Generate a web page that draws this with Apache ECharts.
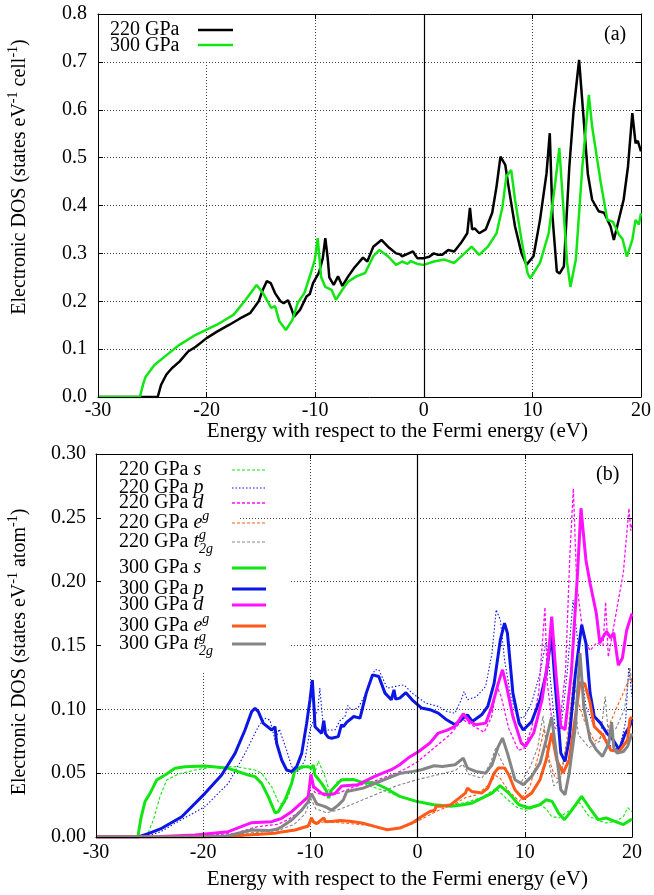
<!DOCTYPE html>
<html>
<head>
<meta charset="utf-8">
<title>Electronic DOS</title>
<script src="https://cdn.jsdelivr.net/npm/echarts@6/dist/echarts.min.js"></script>
<style>
  html, body { margin: 0; padding: 0; background: #fff; }
  #chart { width: 654px; height: 895px; }
</style>
</head>
<body>
<div id="chart"></div>
<script>
// ---- panel (a): total DOS, [energy eV, states/eV/cell] ----
const dos220 = [[-30,0],[-24.5,0],[-24.2,0.025],[-23.7,0.047],[-23.2,0.06],[-22.5,0.074],[-21.7,0.095],[-21,0.105],[-20,0.123],[-19,0.137],[-17.9,0.151],[-17,0.163],[-16,0.175],[-15.2,0.2],[-14.8,0.225],[-14.45,0.242],[-14.1,0.238],[-13.7,0.217],[-13.2,0.2],[-12.9,0.196],[-12.5,0.202],[-12.2,0.185],[-11.95,0.168],[-11.4,0.182],[-10.8,0.21],[-10.5,0.215],[-10.2,0.238],[-9.65,0.26],[-9.3,0.29],[-9.07,0.332],[-8.85,0.29],[-8.7,0.25],[-8.3,0.234],[-7.9,0.252],[-7.5,0.232],[-6.96,0.252],[-6.4,0.27],[-5.6,0.291],[-5.2,0.283],[-4.65,0.314],[-3.9,0.328],[-3.3,0.314],[-2.55,0.3],[-2.2,0.298],[-2,0.294],[-1.4,0.3],[-1.0,0.304],[-0.6,0.29],[0,0.29],[0.5,0.293],[0.92,0.3],[1.3,0.297],[1.7,0.297],[2.25,0.307],[2.8,0.304],[3.4,0.321],[4.0,0.342],[4.25,0.395],[4.45,0.35],[4.7,0.352],[5.1,0.342],[5.7,0.35],[6.3,0.385],[6.7,0.44],[7.06,0.502],[7.5,0.485],[7.8,0.44],[8.4,0.356],[9.0,0.3],[9.45,0.276],[10.1,0.294],[10.7,0.37],[11.3,0.467],[11.6,0.551],[11.85,0.377],[12.25,0.262],[12.5,0.258],[12.9,0.273],[13.4,0.481],[13.8,0.6],[14.3,0.704],[14.7,0.586],[15.1,0.467],[15.5,0.412],[16.1,0.388],[16.6,0.385],[17.2,0.356],[17.5,0.328],[17.8,0.356],[18.4,0.412],[18.8,0.481],[19.2,0.593],[19.5,0.53],[19.7,0.535],[20,0.513]];
const dos300 = [[-30,0],[-26.15,0],[-25.8,0.03],[-25.6,0.043],[-24.8,0.067],[-23.66,0.088],[-22.5,0.109],[-21,0.13],[-19.05,0.151],[-17.5,0.172],[-16.4,0.203],[-15.4,0.234],[-14.8,0.217],[-14.05,0.186],[-13.7,0.19],[-13.3,0.158],[-12.7,0.14],[-12.1,0.161],[-11.6,0.197],[-11,0.217],[-10.4,0.259],[-10.03,0.287],[-9.77,0.332],[-9.45,0.25],[-9.07,0.23],[-8.5,0.224],[-8.1,0.203],[-7.5,0.224],[-6.96,0.241],[-6.2,0.252],[-5.4,0.259],[-4.65,0.294],[-4.1,0.307],[-3.3,0.294],[-2.55,0.276],[-2,0.283],[-1.5,0.278],[-1.2,0.284],[-0.6,0.278],[0,0.276],[0.92,0.283],[1.9,0.287],[2.8,0.28],[3.6,0.297],[4.4,0.314],[5.1,0.297],[5.9,0.314],[6.7,0.342],[7.25,0.398],[7.6,0.461],[8.05,0.474],[8.4,0.412],[9.0,0.328],[9.55,0.259],[9.8,0.248],[10.7,0.28],[11.5,0.342],[12.1,0.447],[12.48,0.52],[12.8,0.412],[13.2,0.28],[13.5,0.23],[14.0,0.287],[14.6,0.481],[15.2,0.631],[15.5,0.565],[16.3,0.447],[16.9,0.37],[17.4,0.366],[18.0,0.338],[18.3,0.33],[18.7,0.293],[19.2,0.328],[19.5,0.37],[19.8,0.36],[20,0.384]];

// ---- panel (b): projected DOS, [energy eV, states/eV/atom] ----
const s220 = [[-30,0],[-25.3,0],[-24.65,0.0133],[-24.03,0.0316],[-23.41,0.0446],[-22.32,0.0493],[-20.76,0.0525],[-19.21,0.0546],[-17.03,0.0551],[-15.17,0.0525],[-14.55,0.05],[-13.61,0.0394],[-13.0,0.0277],[-12.53,0.025],[-12.06,0.0316],[-11.44,0.0512],[-10.81,0.0538],[-10.2,0.0551],[-9.6,0.05],[-9.26,0.0595],[-8.64,0.0473],[-8.2,0.035],[-7.5,0.043],[-6.4,0.046],[-5.5,0.044],[-4.5,0.04],[-3,0.036],[-1.5,0.031],[0,0.027],[1.5,0.025],[3,0.025],[4.5,0.027],[6,0.031],[7.3,0.038],[8.3,0.03],[9.3,0.023],[10.2,0.021],[11.5,0.025],[12.0,0.022],[12.5,0.016],[13.2,0.015],[14.2,0.021],[15.1,0.027],[16.0,0.016],[17.5,0.011],[18.5,0.012],[19.2,0.016],[19.6,0.023],[20,0.02]];
const p220 = [[-30,0],[-25.5,0],[-24,0.004],[-22.63,0.0107],[-19.83,0.0238],[-17.66,0.042],[-16.1,0.0655],[-14.86,0.0864],[-14.24,0.093],[-13.77,0.0916],[-13.3,0.076],[-12.9,0.0845],[-12.22,0.068],[-11.75,0.0551],[-11.13,0.0512],[-10.5,0.0603],[-10.04,0.0838],[-9.6,0.0943],[-9.3,0.0995],[-9.12,0.1166],[-8.8,0.0864],[-8.33,0.0838],[-7.71,0.0838],[-7.24,0.0912],[-6.77,0.0943],[-6.5,0.103],[-6.2,0.0997],[-5.56,0.101],[-4.79,0.1127],[-4.0,0.131],[-3.62,0.131],[-2.84,0.1166],[-2.06,0.118],[-1.28,0.1192],[-0.51,0.1127],[0.76,0.1049],[1.93,0.1023],[2.71,0.0984],[3.49,0.097],[4.07,0.1075],[4.34,0.114],[4.65,0.1075],[5.5,0.11],[6.35,0.118],[6.94,0.144],[7.33,0.178],[7.72,0.17],[8.11,0.1388],[8.69,0.11],[9.28,0.0944],[9.86,0.0931],[10.64,0.1049],[11.42,0.1284],[12.0,0.1545],[12.27,0.1336],[12.78,0.0892],[13.36,0.084],[13.95,0.1284],[14.5,0.1856],[15.1,0.1414],[15.7,0.1023],[16.48,0.0866],[17.25,0.0814],[18.03,0.071],[18.81,0.0684],[19.4,0.09],[19.7,0.133],[20,0.11]];
const d220 = [[-30,0],[-24,0],[-20,0.001],[-17,0.003],[-15,0.008],[-13,0.01],[-12,0.014],[-11,0.02],[-10.3,0.027],[-9.95,0.043],[-9.6,0.035],[-8.5,0.032],[-7.5,0.034],[-6,0.039],[-4,0.044],[-2,0.05],[-1,0.054],[0,0.059],[1,0.066],[2,0.073],[3,0.08],[4.2,0.092],[5.2,0.087],[6.2,0.082],[6.9,0.094],[7.4,0.118],[7.8,0.11],[8.5,0.085],[9.4,0.068],[9.9,0.069],[10.6,0.084],[11.3,0.113],[11.88,0.18],[12.1,0.12],[12.6,0.087],[13.2,0.083],[13.8,0.13],[14.2,0.22],[14.53,0.273],[14.84,0.199],[15.46,0.157],[16.08,0.146],[16.7,0.152],[17.3,0.15],[17.54,0.184],[17.79,0.141],[18.57,0.178],[19.19,0.207],[19.72,0.2575],[19.88,0.24],[20,0.245]];
const eg220 = [[-30,0],[-20,0],[-15,0.0015],[-13,0.003],[-11.5,0.005],[-10.2,0.008],[-9.9,0.012],[-9.5,0.01],[-8.7,0.012],[-7,0.011],[-5,0.0095],[-3,0.006],[-1.5,0.007],[-0.3,0.011],[0.6,0.015],[2,0.021],[3.5,0.026],[4.5,0.031],[5.5,0.033],[6.5,0.04],[7.3,0.048],[7.7,0.046],[8.5,0.036],[9.5,0.028],[10.5,0.04],[11.3,0.065],[11.8,0.085],[12.3,0.06],[12.8,0.047],[13.3,0.045],[14.0,0.08],[14.53,0.123],[15.0,0.105],[15.6,0.09],[16.5,0.075],[17.5,0.08],[18.5,0.1],[19.3,0.115],[19.8,0.126],[20,0.12]];
const t2g220 = [[-30,0],[-20,0],[-16,0.003],[-13,0.005],[-11.5,0.01],[-10.5,0.018],[-9.95,0.03],[-9.5,0.022],[-8.5,0.019],[-7.5,0.021],[-6,0.026],[-4,0.033],[-2,0.04],[0,0.045],[2,0.049],[3.5,0.052],[4.2,0.057],[4.8,0.049],[6,0.046],[6.8,0.058],[7.3,0.07],[7.8,0.06],[8.6,0.048],[9.6,0.042],[10.5,0.055],[11.2,0.07],[11.7,0.095],[12.1,0.065],[12.7,0.04],[13.3,0.045],[14.0,0.075],[14.5,0.118],[15.0,0.08],[16.0,0.07],[17.0,0.075],[17.5,0.11],[17.8,0.08],[18.5,0.085],[19.3,0.1],[19.8,0.133],[20,0.12]];

const s300 = [[-30,0],[-26.1,0],[-25.8,0.015],[-25.43,0.0277],[-24.96,0.0342],[-24.34,0.0446],[-23.41,0.0493],[-22.63,0.0538],[-21.7,0.0551],[-19.83,0.0556],[-17.66,0.0538],[-15.79,0.0486],[-15.17,0.0473],[-14.55,0.042],[-13.93,0.0316],[-13.3,0.019],[-13.0,0.0197],[-12.37,0.029],[-11.75,0.042],[-11.44,0.0525],[-10.81,0.0551],[-10.2,0.0551],[-9.9,0.054],[-9.73,0.0564],[-9.57,0.0486],[-8.95,0.042],[-8.5,0.036],[-8.3,0.0305],[-8.02,0.0368],[-7.1,0.0449],[-5.95,0.045],[-5.18,0.0428],[-4.0,0.0423],[-2.84,0.0376],[-1.67,0.0318],[-0.1,0.0279],[1.5,0.0253],[3.1,0.024],[4.26,0.0253],[5.1,0.0266],[6.0,0.0305],[6.95,0.0344],[7.7,0.0402],[8.5,0.0344],[9.45,0.0253],[10.4,0.0227],[11.4,0.0253],[12.0,0.0292],[12.55,0.0279],[13.15,0.0188],[13.7,0.0136],[14.3,0.0201],[15.3,0.0318],[16.05,0.0227],[16.85,0.0136],[17.6,0.0149],[18.4,0.0123],[19.2,0.0097],[20,0.0141]];
const p300 = [[-30,0],[-26.05,0],[-25,0.003],[-23.87,0.0068],[-22.0,0.0159],[-19.83,0.0342],[-18.28,0.0486],[-17.03,0.0655],[-16.1,0.0838],[-15.48,0.0982],[-15.17,0.1008],[-14.86,0.0982],[-14.39,0.089],[-13.61,0.0838],[-13.3,0.0864],[-13.15,0.0734],[-12.68,0.0603],[-12.22,0.0525],[-11.75,0.0512],[-11.28,0.0551],[-10.81,0.0655],[-10.35,0.089],[-10.04,0.1073],[-9.82,0.123],[-9.65,0.1],[-9.57,0.0864],[-8.95,0.0812],[-8.75,0.0912],[-8.6,0.081],[-8.33,0.078],[-8.02,0.0773],[-7.4,0.0786],[-7.1,0.088],[-6.93,0.0864],[-6.6,0.09],[-5.95,0.0944],[-5.37,0.0931],[-4.79,0.1127],[-4.2,0.127],[-3.62,0.1257],[-3.04,0.1127],[-2.45,0.1075],[-2.2,0.1153],[-2.05,0.108],[-1.67,0.1088],[-1.09,0.113],[-0.51,0.1075],[0.37,0.101],[1.15,0.0997],[1.93,0.097],[2.71,0.0918],[3.49,0.0879],[4.26,0.0931],[4.65,0.0957],[5.1,0.0905],[5.97,0.0957],[6.55,0.1023],[7.14,0.1205],[7.72,0.1545],[8.11,0.1675],[8.38,0.1597],[8.89,0.1127],[9.47,0.0892],[9.86,0.0838],[10.64,0.0905],[11.42,0.1075],[12.0,0.1284],[12.5,0.158],[12.8,0.1231],[13.36,0.0657],[13.75,0.0592],[14.14,0.0762],[14.72,0.1284],[15.31,0.1662],[15.7,0.1518],[16.09,0.1127],[16.48,0.0944],[17.06,0.0892],[17.64,0.0814],[18.23,0.0762],[18.81,0.0684],[19.39,0.0814],[19.78,0.0866],[20,0.0918]];
const d300 = [[-30,0],[-25,0],[-20.76,0.0016],[-17.66,0.0042],[-15.48,0.0112],[-13.61,0.012],[-13.15,0.0133],[-12.68,0.0146],[-11.75,0.0198],[-10.81,0.0269],[-10.2,0.0316],[-9.95,0.049],[-9.7,0.0394],[-8.95,0.0342],[-8.33,0.033],[-7.71,0.034],[-7.08,0.04],[-5.56,0.041],[-4.0,0.0475],[-2.45,0.0527],[-1.67,0.0566],[-0.89,0.0618],[0.1,0.067],[1.15,0.0736],[1.93,0.0814],[2.71,0.0835],[3.49,0.0866],[4.26,0.0965],[4.85,0.0905],[5.43,0.0879],[6.36,0.0892],[6.94,0.1023],[7.53,0.1205],[7.92,0.131],[8.3,0.118],[8.89,0.0944],[9.67,0.0736],[10.06,0.071],[10.83,0.0814],[11.61,0.1075],[12.2,0.1414],[12.51,0.1727],[12.9,0.1284],[13.36,0.0866],[13.75,0.084],[14.34,0.1284],[14.92,0.2066],[15.24,0.2575],[15.7,0.217],[16.09,0.1988],[16.67,0.1753],[17.0,0.152],[17.4,0.158],[17.63,0.161],[18.0,0.156],[18.3,0.16],[18.72,0.1346],[19.1,0.14],[19.5,0.162],[20,0.175]];
const eg300 = [[-30,0],[-20,0],[-17.66,0.0005],[-15.17,0.002],[-13.3,0.003],[-12.68,0.004],[-11.44,0.0055],[-10.2,0.0086],[-9.9,0.015],[-9.73,0.012],[-9.41,0.0105],[-8.75,0.015],[-8.6,0.012],[-7.9,0.0123],[-7.2,0.013],[-6.34,0.0123],[-5.18,0.011],[-4.0,0.0083],[-2.84,0.0057],[-1.67,0.007],[-0.5,0.011],[0.37,0.016],[1.15,0.02],[1.6,0.021],[1.73,0.024],[2.32,0.024],[3.1,0.0253],[3.87,0.0305],[4.46,0.0344],[4.65,0.0383],[5.04,0.0357],[5.97,0.0344],[6.55,0.0383],[7.14,0.05],[7.53,0.054],[8.11,0.054],[8.5,0.0488],[9.08,0.037],[9.86,0.0297],[10.64,0.0344],[11.42,0.0449],[12.0,0.0605],[12.51,0.0814],[12.97,0.0605],[13.56,0.05],[14.14,0.0605],[14.72,0.0944],[15.15,0.121],[15.6,0.12],[16.09,0.105],[16.48,0.0866],[17.25,0.08],[18.03,0.068],[18.81,0.067],[19.59,0.076],[19.8,0.092],[20,0.094]];
const t2g300 = [[-30,0],[-20,0],[-17.66,0.001],[-15.48,0.0055],[-13.93,0.005],[-13.15,0.006],[-12.68,0.008],[-11.75,0.0133],[-10.81,0.021],[-10.2,0.0277],[-9.9,0.034],[-9.73,0.0342],[-9.41,0.026],[-8.64,0.0238],[-8.02,0.021],[-7.4,0.025],[-6.93,0.029],[-6.6,0.0357],[-5.08,0.0383],[-3.9,0.0423],[-2.74,0.0462],[-1.57,0.05],[-0.41,0.0514],[0.37,0.0527],[1.54,0.0558],[2.32,0.0553],[3.49,0.0566],[4.26,0.0618],[4.65,0.054],[5.43,0.0514],[6.36,0.05],[6.94,0.0566],[7.53,0.071],[7.92,0.0775],[8.38,0.0657],[9.08,0.0449],[9.86,0.041],[10.64,0.0475],[11.42,0.0579],[12.0,0.0762],[12.5,0.094],[12.9,0.0684],[13.36,0.037],[13.75,0.0331],[14.14,0.05],[14.72,0.0866],[15.15,0.144],[15.5,0.1023],[16.09,0.0762],[16.67,0.0684],[17.25,0.0631],[17.84,0.0736],[18.1,0.09],[18.3,0.07],[18.62,0.0657],[19.2,0.067],[19.59,0.071],[20,0.081]];

const fermiEnergy = 0;
const energyRange = [-30, 20];

// ---- look ----
const FONT = '"Liberation Serif", "Times New Roman", serif';
const GREEN = '#12e612', BLUE = '#0c16e4', MAGENTA = '#ff10ff', ORANGE = '#ff5a1a', GREY = '#858585';
const X_TITLE = 'Energy with respect to the Fermi energy (eV)';
const txt = {fontFamily: FONT, fontSize: 20, color: '#000'};
const gridDots = {color: '#444', width: 1, type: [1, 2]};

const chart = echarts.init(document.getElementById('chart'));

// canvas text measuring, used to place the stray superscript of t2g
const measureCtx = document.createElement('canvas').getContext('2d');
function textWidth(str, font) {
  measureCtx.font = font;
  return measureCtx.measureText(str).width;
}

function bottomAxis(grid, labelMargin) {
  return {
    type: 'value', gridIndex: grid, position: 'bottom', z: 3,
    min: energyRange[0], max: energyRange[1], interval: 10,
    axisLine: {show: true, onZero: false, lineStyle: {color: '#000', width: 1}},
    axisTick: {show: true, inside: true, length: 5, lineStyle: {color: '#000'}},
    axisLabel: Object.assign({margin: labelMargin}, txt),
    splitLine: {show: false}
  };
}
// mirrored top axis, also carries the dotted grid
function topAxis(grid) {
  return {
    type: 'value', gridIndex: grid, position: 'top', z: 0,
    min: energyRange[0], max: energyRange[1], interval: 10,
    axisLine: {show: true, onZero: false, lineStyle: {color: '#000', width: 1}},
    axisTick: {show: true, inside: true, length: 5, lineStyle: {color: '#000'}},
    axisLabel: {show: false},
    splitLine: {show: true, lineStyle: gridDots}
  };
}
function leftAxis(grid, max, step, digits, margin) {
  return {
    type: 'value', gridIndex: grid, position: 'left', z: 3,
    min: 0, max: max, interval: step,
    axisLine: {show: true, onZero: false, lineStyle: {color: '#000', width: 1}},
    axisTick: {show: true, inside: true, length: 5, lineStyle: {color: '#000'}},
    axisLabel: Object.assign({margin: margin, formatter: v => v.toFixed(digits)}, txt),
    splitLine: {show: false}
  };
}
function rightAxis(grid, max, step) {
  return {
    type: 'value', gridIndex: grid, position: 'right', z: 0,
    min: 0, max: max, interval: step,
    axisLine: {show: true, onZero: false, lineStyle: {color: '#000', width: 1}},
    axisTick: {show: true, inside: true, length: 5, lineStyle: {color: '#000'}},
    axisLabel: {show: false},
    splitLine: {show: true, lineStyle: gridDots}
  };
}

function line(name, data, xi, yi, color, width, dash) {
  return {
    name: name, type: 'line', data: data, xAxisIndex: xi, yAxisIndex: yi,
    symbol: 'none', silent: true, z: 2,
    lineStyle: {color: color, width: width, type: dash || 'solid'}
  };
}
function fermiMark() {
  return {
    silent: true, symbol: ['none', 'none'], label: {show: false},
    lineStyle: {color: '#000', width: 1.2, type: 'solid'},
    data: [{xAxis: fermiEnergy}]
  };
}

// series of panel (b), thin dashed first so the thick lines sit on top
const pdos = [
  {name: '220 GPa s', data: s220, color: GREEN, width: 1.1, dash: [3, 2]},
  {name: '220 GPa p', data: p220, color: BLUE, width: 1.1, dash: [1.5, 2]},
  {name: '220 GPa d', data: d220, color: MAGENTA, width: 1.3, dash: [3, 2]},
  {name: '220 GPa eg', data: eg220, color: ORANGE, width: 1.1, dash: [3, 2]},
  {name: '220 GPa t2g', data: t2g220, color: GREY, width: 1.1, dash: [3, 2]},
  {name: '300 GPa s', data: s300, color: GREEN, width: 3},
  {name: '300 GPa p', data: p300, color: BLUE, width: 3},
  {name: '300 GPa d', data: d300, color: MAGENTA, width: 3},
  {name: '300 GPa eg', data: eg300, color: ORANGE, width: 3},
  {name: '300 GPa t2g', data: t2g300, color: GREY, width: 3}
];

const series = [
  line('220 GPa', dos220, 0, 0, '#000', 2.5),
  line('300 GPa', dos300, 0, 0, GREEN, 2.5)
];
series[0].markLine = fermiMark();
pdos.forEach(p => series.push(line(p.name, p.data, 2, 2, p.color, p.width, p.dash)));
series[2].markLine = fermiMark();

// rich text pieces for labels with italics, super- and subscripts
const rich = {
  n: {fontFamily: FONT, fontSize: 20, lineHeight: 28, verticalAlign: 'middle', color: '#000'},
  t: {fontFamily: FONT, fontSize: 21, lineHeight: 28, verticalAlign: 'middle', color: '#000'},
  i: {fontFamily: FONT, fontSize: 20, fontStyle: 'italic', lineHeight: 28, verticalAlign: 'middle', color: '#000'},
  sup: {fontFamily: FONT, fontSize: 14, fontStyle: 'italic', lineHeight: 14, verticalAlign: 'top', color: '#000'},
  sub: {fontFamily: FONT, fontSize: 14, fontStyle: 'italic', lineHeight: 14, verticalAlign: 'bottom', color: '#000'},
  g: {fontFamily: FONT, fontSize: 14, fontStyle: 'italic', lineHeight: 14, color: '#000'},
  up: {fontFamily: FONT, fontSize: 14, lineHeight: 14, verticalAlign: 'top', color: '#000'}
};

function label(x, y, text, align, rotation) {
  return {
    type: 'text', x: x, y: y, z: 4, silent: true, rotation: rotation || 0,
    style: {text: text, rich: rich, align: align || 'left', verticalAlign: 'middle',
      textAlign: align || 'left', textVerticalAlign: 'middle'}
  };
}
function sample(x1, x2, y, color, width, dash) {
  return {
    type: 'line', z: 4, silent: true,
    shape: {x1: x1, y1: y, x2: x2, y2: y},
    style: {stroke: color, lineWidth: width, lineDash: dash || null}
  };
}
function mask(x, y, w, h) {
  return {type: 'rect', z: 1, silent: true, shape: {x: x, y: y, width: w, height: h}, style: {fill: '#fff'}};
}

function orbital(pressure, orb) {
  if (orb === 'eg') return '{n|' + pressure + ' GPa }{i|e}{sup|g}';
  if (orb === 't2g') return '{n|' + pressure + ' GPa }{i|t}{sub|2g}';
  return '{n|' + pressure + ' GPa }{i|' + orb + '}';
}

const graphics = [
  // opaque key areas
  mask(99, 15, 141, 45),
  mask(102, 455, 138, 105),
  mask(102, 560, 187, 112),
  // panel (a) key
  label(110, 30, '{n|220 GPa}'),
  label(110, 46, '{n|300 GPa}'),
  sample(198, 233, 30, '#000', 2.5),
  sample(198, 233, 45, GREEN, 2.5),
  label(604, 35, '{n|(a)}'),
  label(596, 475, '{n|(b)}'),
  // axis titles
  label(588, 431, '{t|' + X_TITLE + '}', 'right'),
  label(588, 879, '{t|' + X_TITLE + '}', 'right'),
  label(20, 177, '{n|Electronic DOS (states eV}{up|-1}{n| cell}{up|-1}{n|)}', 'center', Math.PI / 2),
  label(20, 652, '{n|Electronic DOS (states eV}{up|-1}{n| atom}{up|-1}{n|)}', 'center', Math.PI / 2)
];

// panel (b) key rows
const keyRows = [470, 488, 503, 523, 542, 568, 589, 605, 626, 644];
pdos.forEach((p, k) => {
  const parts = p.name.split(' ');
  const y = keyRows[k];
  graphics.push(label(119, y, orbital(parts[0], parts[2])));
  if (parts[2] === 't2g') {
    const gx = 119 + textWidth(parts[0] + ' GPa ', '20px ' + FONT) + textWidth('t', 'italic 20px ' + FONT);
    graphics.push(label(gx, y - 7, '{g|g}'));
  }
  graphics.push(sample(232, 266, y, p.color, p.width, p.dash));
});

chart.setOption({
  animation: false,
  backgroundColor: '#fff',
  grid: [
    {left: 98, top: 14, width: 543, height: 383},
    {left: 96, top: 454, width: 536, height: 383}
  ],
  xAxis: [bottomAxis(0, 4), topAxis(0), bottomAxis(1, 6), topAxis(1)],
  yAxis: [leftAxis(0, 0.8, 0.1, 1, 11), rightAxis(0, 0.8, 0.1), leftAxis(1, 0.3, 0.05, 2, 10), rightAxis(1, 0.3, 0.05)],
  series: series,
  graphic: graphics
});
</script>
</body>
</html>
